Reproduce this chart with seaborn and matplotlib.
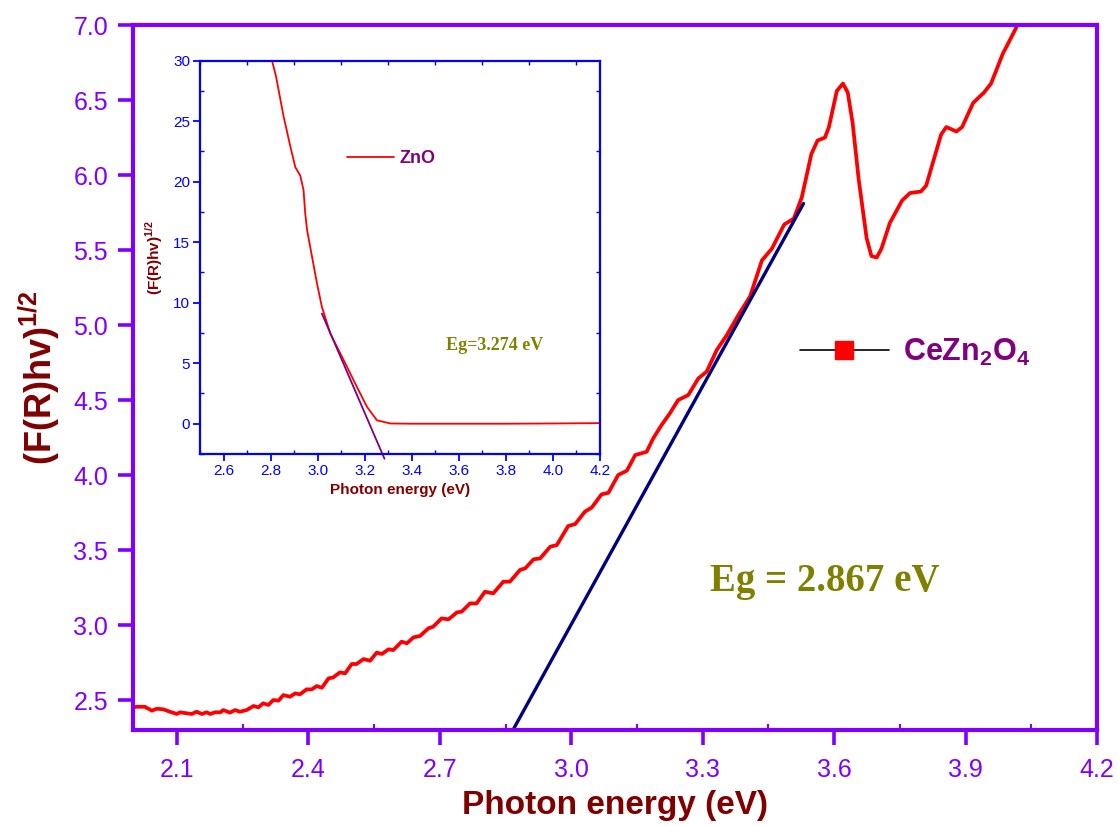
import matplotlib
matplotlib.use("Agg")
import matplotlib.pyplot as plt
import seaborn as sns
import pandas as pd
from matplotlib.lines import Line2D
from matplotlib.ticker import MultipleLocator, FormatStrFormatter

# ---------------- data: CeZn2O4 (main panel) ----------------
energy = [
    2.000, 2.008, 2.027, 2.043, 2.054, 2.069, 2.084, 2.100,
    2.107, 2.123, 2.134, 2.145, 2.157, 2.168, 2.176, 2.187, 2.199, 2.206,
    2.221, 2.233, 2.244, 2.259, 2.275, 2.286, 2.297, 2.309, 2.320, 2.332,
    2.343, 2.358, 2.370, 2.381, 2.396, 2.408, 2.419, 2.431, 2.446, 2.457,
    2.472, 2.484, 2.499, 2.510, 2.526, 2.541, 2.556, 2.568, 2.583, 2.594,
    2.613, 2.625, 2.640, 2.655, 2.674, 2.685, 2.704, 2.720, 2.739, 2.750,
    2.769, 2.784, 2.803, 2.822, 2.845, 2.860, 2.883, 2.895, 2.914, 2.929,
    2.952, 2.967, 2.993, 3.009, 3.031, 3.047, 3.069, 3.085, 3.107, 3.127,
    3.146, 3.172, 3.187, 3.206, 3.225, 3.244, 3.267, 3.290, 3.309, 3.332,
    3.355, 3.382, 3.408, 3.435, 3.458, 3.486, 3.508, 3.526, 3.548, 3.562,
    3.579, 3.588, 3.606, 3.620, 3.631, 3.642, 3.656, 3.674, 3.685, 3.697,
    3.708, 3.727, 3.755, 3.773, 3.798, 3.810, 3.823, 3.844, 3.856, 3.879,
    3.892, 3.917, 3.931, 3.942, 3.958, 3.985, 3.994, 4.015, 4.040,
]
fr_hv = [
    2.450, 2.455, 2.455, 2.429, 2.442, 2.438, 2.422, 2.407,
    2.418, 2.411, 2.407, 2.422, 2.407, 2.418, 2.407, 2.418, 2.418, 2.433,
    2.416, 2.433, 2.422, 2.433, 2.460, 2.451, 2.478, 2.467, 2.500, 2.496,
    2.533, 2.522, 2.544, 2.538, 2.571, 2.571, 2.593, 2.582, 2.644, 2.651,
    2.684, 2.678, 2.740, 2.740, 2.773, 2.762, 2.816, 2.807, 2.838, 2.833,
    2.889, 2.878, 2.918, 2.927, 2.978, 2.989, 3.044, 3.038, 3.084, 3.089,
    3.144, 3.144, 3.222, 3.211, 3.289, 3.289, 3.367, 3.378, 3.438, 3.444,
    3.522, 3.533, 3.660, 3.673, 3.755, 3.784, 3.871, 3.882, 4.000, 4.029,
    4.133, 4.155, 4.244, 4.333, 4.411, 4.500, 4.533, 4.644, 4.689, 4.833,
    4.933, 5.070, 5.190, 5.430, 5.510, 5.670, 5.710, 5.850, 6.140, 6.230,
    6.250, 6.320, 6.560, 6.610, 6.550, 6.350, 5.970, 5.580, 5.460, 5.450,
    5.510, 5.680, 5.830, 5.880, 5.890, 5.930, 6.060, 6.270, 6.320, 6.290,
    6.320, 6.480, 6.520, 6.550, 6.610, 6.810, 6.860, 6.980, 7.150,
]
tangent_x = [2.867, 3.530]
tangent_y = [2.300, 5.810]

# ---------------- data: ZnO (inset) ----------------
zno_energy = [2.800, 2.806, 2.823, 2.855, 2.884, 2.905, 2.926, 2.940, 2.947,
              2.955, 2.976, 2.997, 3.018, 3.054, 3.111, 3.167, 3.210, 3.252,
              3.309, 3.400, 3.600, 3.800, 4.000, 4.200]
zno_fr = [31.0, 30.0, 28.7, 25.4, 22.9, 21.2, 20.5, 19.3, 17.4,
          16.0, 13.8, 11.6, 9.65, 7.44, 5.24, 3.03, 1.38, 0.28,
          0.02, 0.0, 0.0, 0.0, 0.02, 0.05]
zno_tan_x = [3.018, 3.284]
zno_tan_y = [9.10, -2.90]

main_ticks_x = [2.1, 2.4, 2.7, 3.0, 3.3, 3.6, 3.9, 4.2]
inset_ticks_x = [2.6, 2.8, 3.0, 3.2, 3.4, 3.6, 3.8, 4.0, 4.2]

main_label = "CeZn$_\\mathbf{2}$O$_\\mathbf{4}$"
inset_label = "ZnO"
main_eg = "Eg = 2.867 eV"
inset_eg = "Eg=3.274 eV"

# ---------------- style ----------------
sns.set_style("white")
plt.rcParams["font.family"] = ["Liberation Sans", "DejaVu Sans"]
plt.rcParams["mathtext.fontset"] = "custom"
plt.rcParams["mathtext.rm"] = "Liberation Sans"
plt.rcParams["mathtext.bf"] = "Liberation Sans:bold"

PURPLE = "#8000FF"
DARKRED = "#800000"
OLIVE = "#808000"
MAG = "#800080"
BLUE = "#0000FF"

fig = plt.figure(figsize=(11.18, 8.26), dpi=100)
ax = fig.add_axes([0.119, 0.1162, 0.8623, 0.8535])

df = pd.DataFrame({"E": energy, "F": fr_hv})
sns.lineplot(data=df, x="E", y="F", ax=ax, color="#FF0000", lw=2.7,
             sort=False, estimator=None, legend=False)
sns.lineplot(x=tangent_x, y=tangent_y, ax=ax, color="#000080", lw=2.4,
             sort=False, estimator=None, legend=False)

ax.set_xlim(2.0, 4.2)
ax.set_ylim(2.3, 7.0)
ax.set_xticks(main_ticks_x)
ax.xaxis.set_minor_locator(MultipleLocator(0.15))
ax.yaxis.set_major_locator(MultipleLocator(0.5))
for s in ax.spines.values():
    s.set_color(PURPLE)
    s.set_linewidth(3)
ax.tick_params(axis="both", which="major", direction="out", length=11,
               width=2.6, color=PURPLE, labelcolor=PURPLE, labelsize=18,
               bottom=True, left=True)
ax.tick_params(axis="x", which="major", pad=9)
ax.tick_params(axis="y", which="major", pad=7)
ax.tick_params(axis="x", which="minor", direction="in", length=4,
               width=1.5, color=PURPLE, bottom=True)
ax.xaxis.set_major_formatter(FormatStrFormatter("%.1f"))
ax.yaxis.set_major_formatter(FormatStrFormatter("%.1f"))

ax.set_xlabel("Photon energy (eV)", fontsize=24, fontweight="bold",
              color=DARKRED, labelpad=6)
ax.set_ylabel("(F(R)hv)$^{\\mathbf{1/2}}$", fontsize=26, fontweight="bold",
              color=DARKRED, labelpad=8)

ax.text(3.579, 3.29, main_eg, fontsize=28, fontweight="bold", color=OLIVE,
        family="Liberation Serif", ha="center", va="center")

handle = Line2D([], [], color="black", lw=1.2, marker="s", markersize=13,
                markerfacecolor="#FF0000", markeredgecolor="#FF0000")
leg = ax.legend([handle], [main_label], loc="center left",
                bbox_to_anchor=(0.692, 0.536), frameon=False,
                handlelength=2.9, handletextpad=0.45, borderpad=0,
                borderaxespad=0, prop={"size": 22, "weight": "bold"})
for t in leg.get_texts():
    t.set_color(MAG)

# ---------------- inset ----------------
ins = fig.add_axes([0.1789, 0.4504, 0.3578, 0.4762])
zdf = pd.DataFrame({"E": zno_energy, "F": zno_fr})
sns.lineplot(data=zdf, x="E", y="F", ax=ins, color="#FF0000", lw=1.3,
             sort=False, estimator=None, legend=False)
sns.lineplot(x=zno_tan_x, y=zno_tan_y, ax=ins, color=MAG, lw=1.3,
             sort=False, estimator=None, legend=False)
for ln in ins.get_lines()[-1:]:
    ln.set_clip_on(False)
ins.set_xlim(2.5, 4.2)
ins.set_ylim(-2.5, 30)
ins.set_xticks(inset_ticks_x)
ins.xaxis.set_minor_locator(MultipleLocator(0.1))
ins.yaxis.set_major_locator(MultipleLocator(5))
ins.yaxis.set_minor_locator(MultipleLocator(2.5))
ins.xaxis.set_major_formatter(FormatStrFormatter("%.1f"))
for s in ins.spines.values():
    s.set_color(BLUE)
    s.set_linewidth(1.6)
ins.tick_params(axis="both", which="major", direction="out", length=5,
                width=1.3, color=BLUE, labelcolor=BLUE, labelsize=11, pad=2,
                bottom=True, left=True)
ins.tick_params(axis="both", which="minor", direction="in", length=3,
                width=1.0, color=BLUE, bottom=True, left=True, top=True,
                right=True)
ins.set_xlabel("Photon energy (eV)", fontsize=11, fontweight="bold",
               color=DARKRED, labelpad=4)
ins.set_ylabel("(F(R)hv)$^{\\mathbf{1/2}}$", fontsize=11, fontweight="bold",
               color=DARKRED, labelpad=6)
ins.text(3.75, 6.5, inset_eg, fontsize=13, fontweight="bold", color=OLIVE,
         family="Liberation Serif", ha="center", va="center")
zleg = ins.legend([Line2D([], [], color="#FF0000", lw=1.3)], [inset_label],
                  loc="center left", bbox_to_anchor=(0.368, 0.75),
                  frameon=False, handlelength=2.6, handletextpad=0.3,
                  borderpad=0, borderaxespad=0,
                  prop={"size": 13, "weight": "bold"})
for t in zleg.get_texts():
    t.set_color(MAG)

fig.savefig("out.png", dpi=100)
